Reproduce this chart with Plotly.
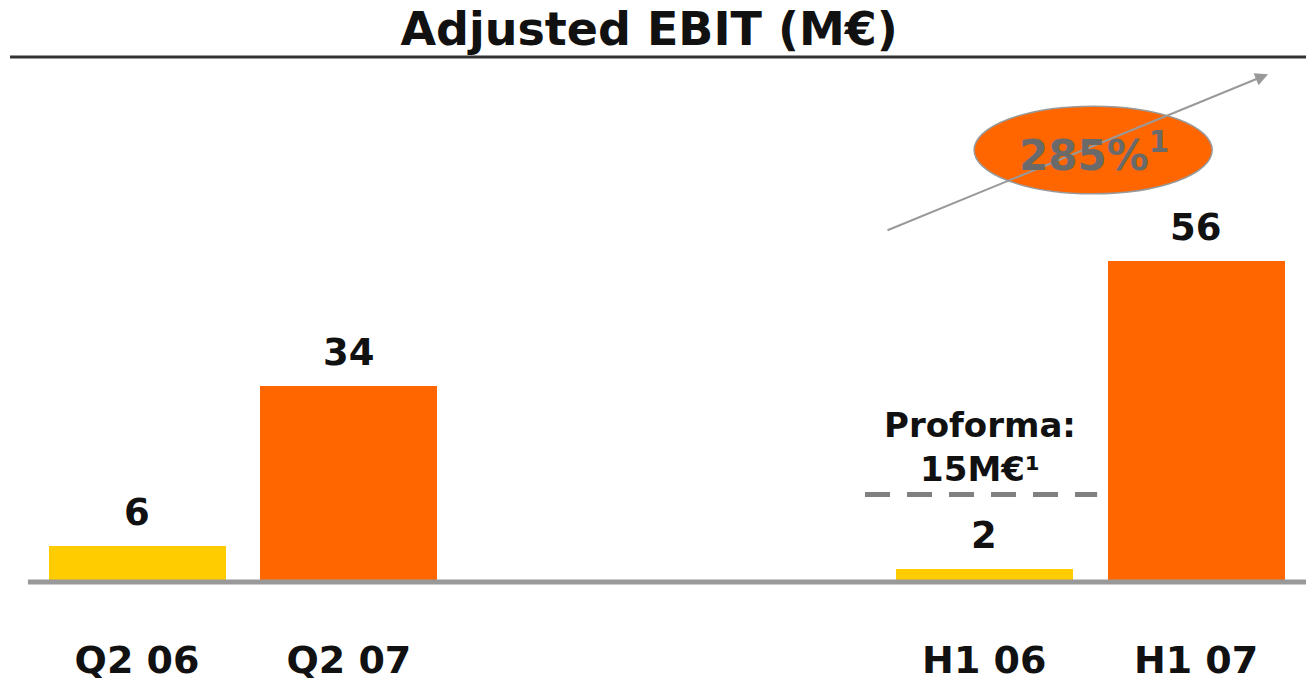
import plotly.graph_objects as go

# data
categories = ["Q2 06", "Q2 07", " ", "  ", "H1 06", "H1 07"]
bar_cats = ["Q2 06", "Q2 07", "H1 06", "H1 07"]
ebit = [6, 34, 2, 56]
bar_colors = ["#FFCC00", "#FF6600", "#FFCC00", "#FF6600"]
proforma_h1_06 = 15
growth_label = "285%<sup>1</sup>"

FONT = "DejaVu Sans"

fig = go.Figure()

fig.add_trace(go.Bar(
    x=bar_cats, y=ebit,
    marker=dict(color=bar_colors, line=dict(width=0)),
    width=0.836,
    hoverinfo="skip",
))

# value labels above the bars
for c, v in zip(bar_cats, ebit):
    fig.add_annotation(
        x=c, y=v, text=f"<b>{v}</b>", showarrow=False,
        yanchor="bottom", yshift=10,
        font=dict(family=FONT, size=37, color="#111111"),
    )

# proforma dashed line and label
fig.add_shape(type="line", xref="x", yref="y",
              x0=3.437, x1=4.533, y0=proforma_h1_06, y1=proforma_h1_06,
              line=dict(color="#808080", width=5, dash="25px,17px"))
fig.add_annotation(
    x="H1 06", y=proforma_h1_06, xshift=-4, yshift=4,
    text="<b>Proforma:</b><br><b>15M€¹</b>", showarrow=False,
    yanchor="bottom", align="center",
    font=dict(family=FONT, size=34, color="#111111"),
)

# growth arrow
fig.add_annotation(
    x=5.34, y=88.8, ax=3.536, ay=61.3,
    xref="x", yref="y", axref="x", ayref="y",
    text="", showarrow=True, arrowhead=2, arrowsize=1.3,
    arrowwidth=2, arrowcolor="#999999",
)
# ellipse badge
fig.add_shape(type="circle", xref="x", yref="y",
              x0=3.952, x1=5.076, y0=67.8, y1=83.2,
              fillcolor="#FF6600", line=dict(color="#999999", width=1.5))
fig.add_annotation(
    x=4.52, y=75.1, text=f"<b>{growth_label}</b>", showarrow=False,
    font=dict(family=FONT, size=42, color="#6a6a6a"),
)

# title rule and baseline
fig.add_shape(type="line", xref="paper", yref="paper",
              x0=0.0077, x1=1, y0=1.0057, y1=1.0057,
              line=dict(color="#333333", width=3))
fig.add_shape(type="line", xref="paper", yref="y",
              x0=0.0214, x1=1, y0=-0.35, y1=-0.35,
              line=dict(color="#999999", width=5))

fig.update_layout(
    width=1306, height=678,
    margin=dict(l=0, r=0, t=60, b=90, autoexpand=False),
    paper_bgcolor="white", plot_bgcolor="white",
    showlegend=False,
    title=dict(text="<b>Adjusted EBIT (M€)</b>", x=0.497, xanchor="center",
               y=0.958, yanchor="middle",
               font=dict(family=FONT, size=46, color="#111111")),
    xaxis=dict(type="category", categoryorder="array", categoryarray=categories,
               range=[-0.647, 5.519], showgrid=False, zeroline=False,
               showline=False, ticks="outside", ticklen=38,
               tickcolor="rgba(0,0,0,0)",
               tickfont=dict(family=FONT, size=38, color="#111111", weight="bold"),
               fixedrange=True),
    yaxis=dict(range=[-1.40, 91.3], visible=False, fixedrange=True),
    bargap=0,
)

fig.write_html("out.html", config={"displayModeBar": False},
               post_script="document.body.style.margin='0';")
